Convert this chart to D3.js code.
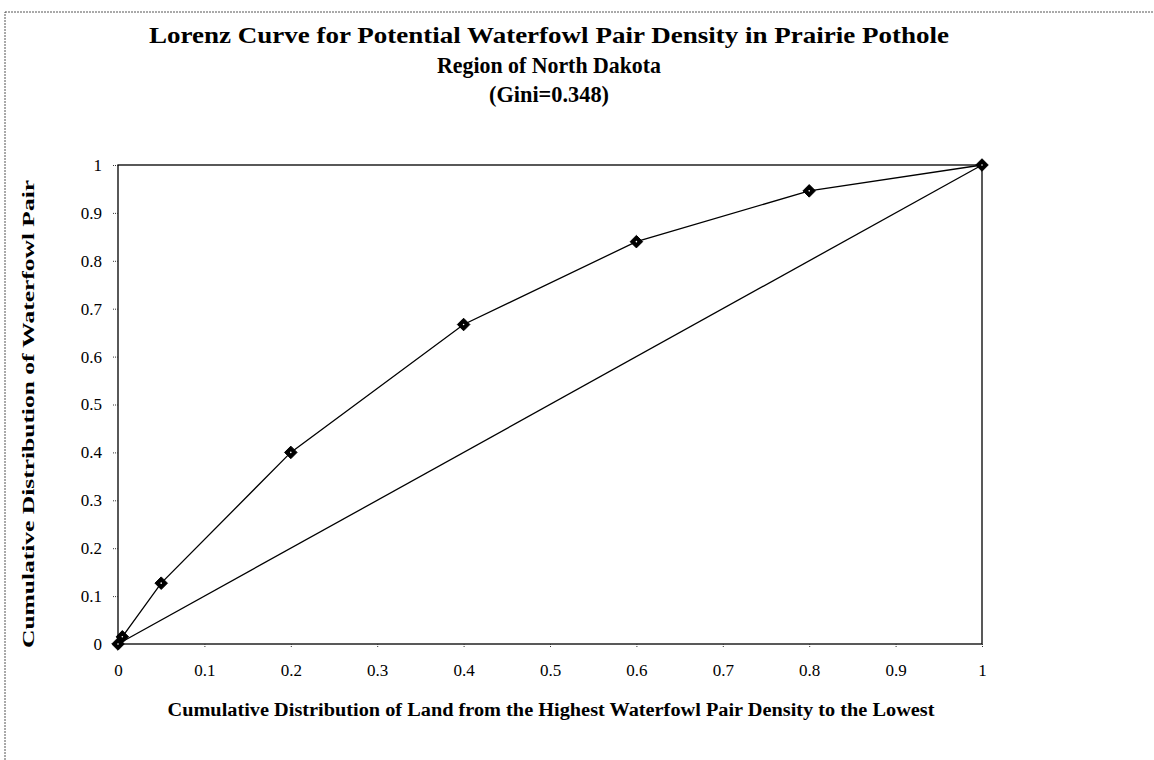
<!DOCTYPE html>
<html>
<head>
<meta charset="utf-8">
<script src="https://cdn.jsdelivr.net/npm/d3@7"></script>
<style>
body{margin:0;background:#fff;}
svg{display:block;}
</style>
</head>
<body>
<svg width="1154" height="760"></svg>
<script>
var landShare=[0,0.005,0.05,0.2,0.4,0.6,0.8,1];
var pairShare=[0,0.015,0.127,0.40,0.667,0.84,0.946,1];
var equality=[0,1];
var xTicks=[0,0.1,0.2,0.3,0.4,0.5,0.6,0.7,0.8,0.9,1];
var yTicks=[0,0.1,0.2,0.3,0.4,0.5,0.6,0.7,0.8,0.9,1];
var titleLines=["Lorenz Curve for Potential Waterfowl Pair Density in Prairie Pothole","Region of North Dakota","(Gini=0.348)"];

var svg=d3.select('svg');
var font='"Liberation Serif","Times New Roman",serif';

// outer dotted frame of the pasted figure
svg.append('rect')
.attr('x',5).attr('y',12).attr('width',1200).attr('height',800)
.style('fill','none').style('stroke','#555').style('stroke-width',1)
.style('stroke-dasharray','2,1');

var plotLeft=118,plotRight=982,plotTop=165,plotBottom=644;
var x=d3.scaleLinear().domain([0,1]).range([plotLeft,plotRight]);
var y=d3.scaleLinear().domain([0,1]).range([plotBottom,plotTop]);

// title
var titleWidths=[800,224,120];
svg.append('g').selectAll('text').data(titleLines).enter().append('text')
.attr('x',549).attr('y',function(d,i){return 43+i*29.5;})
.attr('text-anchor','middle')
.attr('textLength',function(d,i){return titleWidths[i];})
.attr('lengthAdjust','spacingAndGlyphs')
.style('font-family',font).style('font-weight','bold').style('font-size','23px')
.text(function(d){return d;});

// plot border
svg.append('rect')
.attr('x',plotLeft).attr('y',plotTop).attr('width',plotRight-plotLeft).attr('height',plotBottom-plotTop)
.style('fill','none').style('stroke','#000').style('stroke-width',1.3);

var xAxis=svg.append('g').attr('transform','translate(0,'+plotBottom+')')
.call(d3.axisBottom(x).tickValues(xTicks).tickSize(4).tickPadding(16).tickFormat(d3.format('')));
var yAxis=svg.append('g').attr('transform','translate('+plotLeft+',0)')
.call(d3.axisLeft(y).tickValues(yTicks).tickSize(5).tickPadding(11).tickFormat(d3.format('')));
[xAxis,yAxis].forEach(function(a){
    a.select('.domain').remove();
    a.selectAll('line').style('stroke','#333').style('stroke-dasharray','1,1');
    a.selectAll('text').style('font-family',font).style('font-size','17px').attr('fill','#000');
});

// equality line
svg.append('path')
.datum(equality)
.attr('d',d3.line().x(function(d){return x(d);}).y(function(d){return y(d);}))
.style('fill','none').style('stroke','#000').style('stroke-width',1.3);

// lorenz curve
var pts=landShare.map(function(d,i){return [d,pairShare[i]];});
svg.append('path')
.datum(pts)
.attr('d',d3.line().x(function(d){return x(d[0]);}).y(function(d){return y(d[1]);}))
.style('fill','none').style('stroke','#000').style('stroke-width',1.3);

svg.append('g').selectAll('path').data(pts).enter().append('path')
.attr('transform',function(d){return 'translate('+x(d[0])+','+y(d[1])+')';})
.attr('d',d3.symbol().type(d3.symbolDiamond2).size(100))
.style('fill','#000').style('stroke','#000').style('stroke-width',1);
svg.append('g').selectAll('circle').data(pts).enter().append('circle')
.attr('cx',function(d){return x(d[0]);}).attr('cy',function(d){return y(d[1]);})
.attr('r',0.8).style('fill','#fff');

// axis titles
svg.append('text')
.attr('x',551).attr('y',716).attr('text-anchor','middle')
.attr('textLength',767).attr('lengthAdjust','spacingAndGlyphs')
.style('font-family',font).style('font-weight','bold').style('font-size','18px')
.text('Cumulative Distribution of Land from the Highest Waterfowl Pair Density to the Lowest');
svg.append('text')
.attr('transform','translate(34,414) rotate(-90)').attr('text-anchor','middle')
.attr('textLength',468).attr('lengthAdjust','spacingAndGlyphs')
.style('font-family',font).style('font-weight','bold').style('font-size','17px')
.text('Cumulative Distribution of Waterfowl Pair');
</script>
</body>
</html>
